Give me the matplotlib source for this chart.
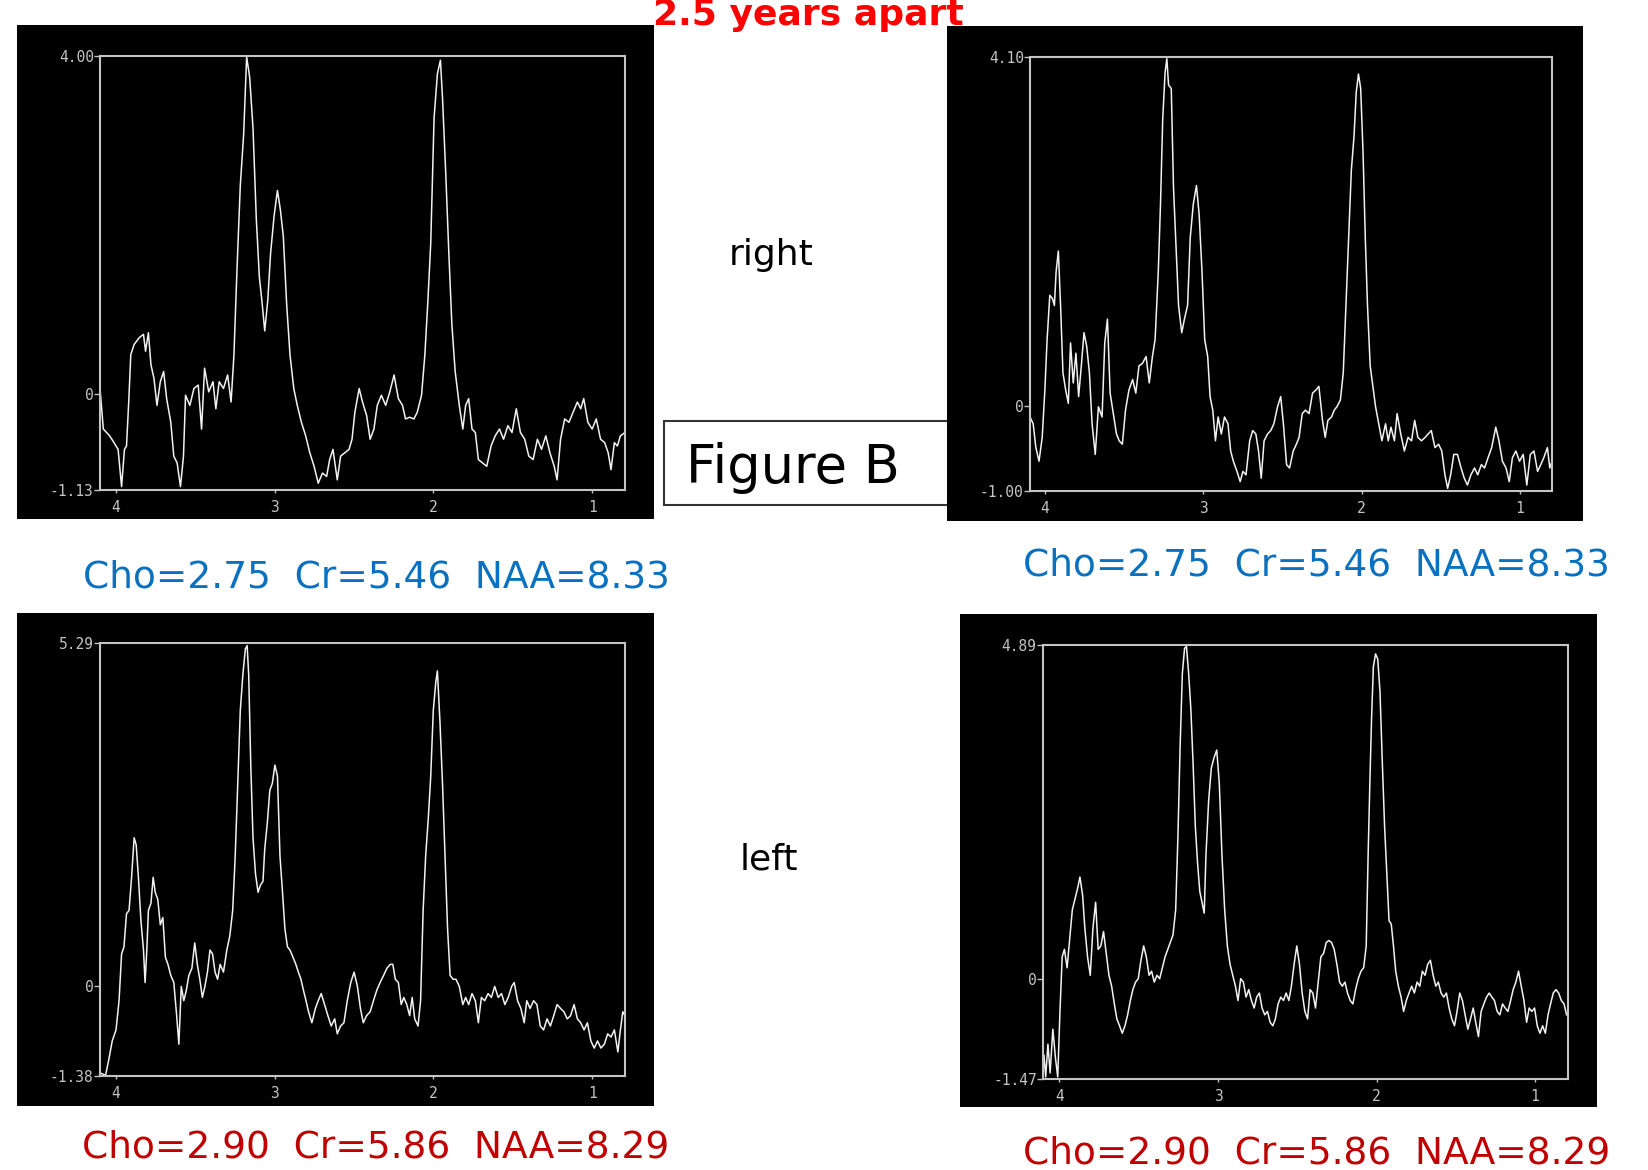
import matplotlib
matplotlib.use("Agg")
import matplotlib.pyplot as plt
from matplotlib.patches import Rectangle

W, H = 1648, 1170

# ---------------- data (ppm, amplitude) ----------------
tl_ppm = [4.101, 4.080, 4.040, 4.013, 3.987, 3.965, 3.947, 3.934, 3.920, 3.907,
          3.886, 3.854, 3.827, 3.814, 3.796, 3.780, 3.761, 3.742, 3.721, 3.700,
          3.681, 3.655, 3.636, 3.615, 3.594, 3.575, 3.562, 3.535, 3.509, 3.482,
          3.461, 3.442, 3.416, 3.389, 3.371, 3.350, 3.323, 3.297, 3.275, 3.257,
          3.238, 3.217, 3.196, 3.177, 3.158, 3.137, 3.116, 3.097, 3.079, 3.063,
          3.044, 3.026, 3.004, 2.983, 2.965, 2.946, 2.925, 2.904, 2.880, 2.858,
          2.832, 2.805, 2.779, 2.752, 2.726, 2.699, 2.673, 2.654, 2.633, 2.606,
          2.585, 2.559, 2.532, 2.513, 2.495, 2.468, 2.447, 2.421, 2.399, 2.375,
          2.354, 2.328, 2.301, 2.275, 2.248, 2.221, 2.195, 2.176, 2.150, 2.123,
          2.102, 2.075, 2.054, 2.036, 2.017, 1.996, 1.975, 1.956, 1.943, 1.922,
          1.903, 1.884, 1.863, 1.837, 1.815, 1.797, 1.778, 1.757, 1.736, 1.717,
          1.691, 1.664, 1.637, 1.611, 1.584, 1.558, 1.531, 1.505, 1.478, 1.452,
          1.425, 1.399, 1.372, 1.345, 1.319, 1.292, 1.266, 1.239, 1.221, 1.199,
          1.173, 1.146, 1.120, 1.093, 1.072, 1.053, 1.027, 1.000, 0.974, 0.947,
          0.921, 0.899, 0.881, 0.860, 0.841, 0.822, 0.793]
tl_amp = [0.07, -0.41, -0.49, -0.57, -0.65, -1.09, -0.65, -0.61, -0.09, 0.47,
          0.59, 0.67, 0.71, 0.51, 0.73, 0.35, 0.19, -0.13, 0.15, 0.27,
          -0.05, -0.33, -0.73, -0.81, -1.09, -0.73, -0.01, -0.13, 0.07, 0.11,
          -0.41, 0.31, 0.03, 0.15, -0.17, 0.15, 0.07, 0.23, -0.09, 0.47,
          1.47, 2.47, 3.07, 3.99, 3.75, 3.15, 2.07, 1.39, 1.07, 0.75,
          1.11, 1.67, 2.11, 2.41, 2.19, 1.87, 1.07, 0.47, 0.07, -0.13,
          -0.33, -0.49, -0.69, -0.85, -1.05, -0.93, -0.97, -0.77, -0.65, -1.01,
          -0.73, -0.69, -0.65, -0.53, -0.21, 0.07, -0.09, -0.25, -0.53, -0.41,
          -0.13, -0.01, -0.13, 0.03, 0.23, -0.05, -0.13, -0.29, -0.27, -0.29,
          -0.21, -0.01, 0.47, 1.07, 1.79, 3.27, 3.79, 3.95, 3.51, 2.59,
          1.67, 0.83, 0.27, -0.13, -0.41, -0.13, -0.05, -0.41, -0.45, -0.77,
          -0.81, -0.85, -0.61, -0.49, -0.41, -0.53, -0.37, -0.45, -0.17, -0.45,
          -0.53, -0.73, -0.77, -0.53, -0.65, -0.49, -0.69, -0.85, -1.01, -0.53,
          -0.29, -0.33, -0.21, -0.09, -0.17, -0.05, -0.33, -0.41, -0.29, -0.53,
          -0.57, -0.69, -0.89, -0.57, -0.61, -0.49, -0.45]

tr_ppm = [4.094, 4.074, 4.057, 4.037, 4.017, 4.000, 3.986, 3.969, 3.952, 3.940,
          3.929, 3.915, 3.901, 3.886, 3.869, 3.852, 3.838, 3.821, 3.804, 3.787,
          3.770, 3.753, 3.736, 3.719, 3.702, 3.682, 3.662, 3.639, 3.622, 3.605,
          3.588, 3.568, 3.548, 3.531, 3.511, 3.491, 3.469, 3.446, 3.426, 3.406,
          3.384, 3.361, 3.341, 3.321, 3.304, 3.284, 3.270, 3.256, 3.241, 3.230,
          3.219, 3.202, 3.188, 3.170, 3.156, 3.136, 3.119, 3.099, 3.082, 3.063,
          3.043, 3.026, 3.008, 2.991, 2.972, 2.957, 2.940, 2.923, 2.906, 2.886,
          2.866, 2.844, 2.827, 2.810, 2.787, 2.767, 2.750, 2.730, 2.707, 2.688,
          2.668, 2.651, 2.634, 2.616, 2.594, 2.574, 2.554, 2.531, 2.511, 2.494,
          2.474, 2.455, 2.432, 2.412, 2.395, 2.375, 2.355, 2.332, 2.310, 2.287,
          2.270, 2.247, 2.230, 2.213, 2.190, 2.173, 2.156, 2.134, 2.116, 2.099,
          2.082, 2.065, 2.048, 2.034, 2.020, 2.006, 1.991, 1.977, 1.963, 1.946,
          1.929, 1.912, 1.892, 1.872, 1.849, 1.832, 1.815, 1.793, 1.776, 1.753,
          1.730, 1.707, 1.685, 1.665, 1.645, 1.622, 1.599, 1.580, 1.560, 1.537,
          1.514, 1.494, 1.474, 1.457, 1.438, 1.418, 1.395, 1.372, 1.352, 1.332,
          1.310, 1.287, 1.267, 1.244, 1.224, 1.202, 1.179, 1.153, 1.133, 1.111,
          1.088, 1.068, 1.048, 1.026, 1.003, 0.980, 0.957, 0.935, 0.912, 0.889,
          0.869, 0.850, 0.827, 0.812, 0.798]
tr_amp = [-0.13, -0.21, -0.49, -0.65, -0.37, 0.19, 0.78, 1.30, 1.26, 1.18,
          1.58, 1.82, 1.18, 0.39, 0.19, 0.03, 0.74, 0.27, 0.62, 0.11,
          0.47, 0.86, 0.70, 0.39, -0.21, -0.57, -0.01, -0.13, 0.74, 1.02,
          0.15, -0.09, -0.33, -0.41, -0.45, -0.05, 0.19, 0.31, 0.15, 0.47,
          0.50, 0.58, 0.27, 0.58, 0.78, 1.58, 2.37, 3.37, 3.92, 4.08,
          3.77, 3.73, 2.57, 1.78, 1.18, 0.86, 1.02, 1.18, 1.98, 2.37,
          2.59, 2.25, 1.58, 0.78, 0.58, 0.11, -0.05, -0.41, -0.13, -0.33,
          -0.13, -0.21, -0.53, -0.65, -0.77, -0.89, -0.77, -0.81, -0.41, -0.29,
          -0.33, -0.53, -0.85, -0.41, -0.33, -0.29, -0.21, -0.01, 0.11, -0.21,
          -0.69, -0.73, -0.53, -0.45, -0.37, -0.09, -0.05, -0.09, 0.15, 0.19,
          0.23, -0.17, -0.37, -0.17, -0.13, -0.05, -0.01, 0.07, 0.39, 1.18,
          1.98, 2.77, 3.17, 3.69, 3.90, 3.73, 2.97, 1.98, 1.18, 0.47,
          0.23, -0.01, -0.21, -0.41, -0.21, -0.41, -0.25, -0.41, -0.09, -0.33,
          -0.53, -0.37, -0.41, -0.17, -0.37, -0.41, -0.37, -0.33, -0.29, -0.49,
          -0.45, -0.53, -0.81, -0.97, -0.81, -0.57, -0.57, -0.73, -0.85, -0.93,
          -0.81, -0.73, -0.81, -0.69, -0.73, -0.61, -0.49, -0.25, -0.41, -0.65,
          -0.73, -0.89, -0.61, -0.53, -0.65, -0.57, -0.93, -0.57, -0.53, -0.77,
          -0.69, -0.61, -0.49, -0.73, -0.65]

bl_ppm = [4.093, 4.066, 4.045, 4.024, 4.000, 3.981, 3.965, 3.950, 3.934, 3.918,
          3.902, 3.886, 3.873, 3.859, 3.843, 3.827, 3.817, 3.806, 3.796, 3.780,
          3.766, 3.753, 3.737, 3.721, 3.705, 3.689, 3.673, 3.655, 3.636, 3.620,
          3.604, 3.589, 3.573, 3.557, 3.541, 3.522, 3.504, 3.488, 3.472, 3.456,
          3.440, 3.424, 3.408, 3.392, 3.376, 3.360, 3.344, 3.323, 3.302, 3.283,
          3.265, 3.249, 3.233, 3.217, 3.201, 3.185, 3.174, 3.164, 3.151, 3.137,
          3.121, 3.105, 3.090, 3.074, 3.063, 3.047, 3.031, 3.015, 2.999, 2.983,
          2.967, 2.951, 2.936, 2.920, 2.904, 2.885, 2.867, 2.851, 2.835, 2.819,
          2.803, 2.787, 2.766, 2.744, 2.726, 2.707, 2.686, 2.665, 2.644, 2.622,
          2.606, 2.585, 2.564, 2.543, 2.521, 2.500, 2.479, 2.460, 2.442, 2.421,
          2.399, 2.378, 2.357, 2.336, 2.314, 2.293, 2.272, 2.256, 2.240, 2.221,
          2.203, 2.187, 2.168, 2.150, 2.134, 2.118, 2.097, 2.081, 2.065, 2.049,
          2.033, 2.017, 2.001, 1.985, 1.975, 1.959, 1.943, 1.927, 1.911, 1.895,
          1.876, 1.858, 1.837, 1.815, 1.797, 1.778, 1.757, 1.736, 1.717, 1.698,
          1.677, 1.656, 1.635, 1.614, 1.592, 1.571, 1.550, 1.529, 1.507, 1.491,
          1.470, 1.449, 1.428, 1.412, 1.391, 1.369, 1.348, 1.327, 1.306, 1.284,
          1.263, 1.242, 1.221, 1.199, 1.178, 1.157, 1.136, 1.114, 1.093, 1.072,
          1.051, 1.030, 1.008, 0.987, 0.966, 0.945, 0.923, 0.902, 0.881, 0.860,
          0.838, 0.822, 0.807, 0.793]
bl_amp = [-1.34, -1.37, -1.12, -0.84, -0.67, -0.22, 0.50, 0.61, 1.12, 1.17,
          1.68, 2.29, 2.18, 1.68, 1.01, 0.56, 0.06, 0.56, 1.17, 1.28,
          1.68, 1.45, 1.34, 0.95, 1.06, 0.45, 0.34, 0.17, 0.06, -0.39,
          -0.89, 0.00, -0.22, -0.06, 0.17, 0.28, 0.67, 0.34, 0.11, -0.17,
          0.00, 0.22, 0.56, 0.50, 0.22, 0.11, 0.34, 0.22, 0.56, 0.78,
          1.17, 2.01, 3.13, 4.25, 4.80, 5.20, 5.25, 4.80, 3.41, 2.29,
          1.73, 1.45, 1.56, 1.62, 2.12, 2.51, 3.02, 3.13, 3.41, 3.24,
          2.01, 1.45, 0.89, 0.61, 0.56, 0.45, 0.34, 0.22, 0.11, -0.06,
          -0.22, -0.39, -0.56, -0.34, -0.22, -0.11, -0.28, -0.45, -0.61, -0.50,
          -0.73, -0.61, -0.56, -0.22, 0.06, 0.22, 0.00, -0.34, -0.56, -0.45,
          -0.39, -0.22, -0.06, 0.06, 0.17, 0.28, 0.34, 0.34, 0.11, 0.06,
          -0.28, -0.17, -0.28, -0.45, -0.17, -0.50, -0.61, -0.22, 1.17, 2.01,
          2.57, 3.24, 4.25, 4.69, 4.86, 4.08, 3.13, 2.01, 0.89, 0.17,
          0.11, 0.11, 0.00, -0.28, -0.17, -0.28, -0.11, -0.22, -0.56, -0.17,
          -0.22, -0.11, -0.17, 0.00, -0.17, -0.11, -0.28, -0.17, 0.00, 0.06,
          -0.22, -0.34, -0.56, -0.22, -0.34, -0.22, -0.28, -0.61, -0.67, -0.50,
          -0.61, -0.45, -0.28, -0.34, -0.39, -0.50, -0.45, -0.28, -0.50, -0.56,
          -0.67, -0.56, -0.84, -0.95, -0.84, -0.95, -0.89, -0.73, -0.78, -0.67,
          -1.01, -0.67, -0.39, -0.45]

br_ppm = [4.098, 4.087, 4.073, 4.059, 4.042, 4.025, 4.011, 3.997, 3.983, 3.969,
          3.952, 3.935, 3.919, 3.902, 3.885, 3.871, 3.854, 3.840, 3.823, 3.806,
          3.789, 3.772, 3.756, 3.739, 3.722, 3.705, 3.688, 3.671, 3.654, 3.638,
          3.621, 3.604, 3.587, 3.570, 3.553, 3.537, 3.520, 3.503, 3.486, 3.469,
          3.452, 3.435, 3.419, 3.402, 3.385, 3.368, 3.351, 3.334, 3.317, 3.301,
          3.284, 3.267, 3.253, 3.239, 3.225, 3.211, 3.199, 3.185, 3.171, 3.157,
          3.143, 3.129, 3.115, 3.101, 3.087, 3.076, 3.059, 3.042, 3.025, 3.008,
          2.992, 2.975, 2.958, 2.941, 2.924, 2.907, 2.890, 2.874, 2.857, 2.840,
          2.823, 2.806, 2.789, 2.772, 2.756, 2.739, 2.722, 2.705, 2.688, 2.671,
          2.654, 2.638, 2.621, 2.604, 2.587, 2.570, 2.553, 2.537, 2.520, 2.503,
          2.486, 2.469, 2.452, 2.435, 2.419, 2.402, 2.385, 2.368, 2.351, 2.334,
          2.317, 2.301, 2.284, 2.267, 2.250, 2.233, 2.216, 2.199, 2.183, 2.166,
          2.149, 2.132, 2.115, 2.098, 2.081, 2.065, 2.053, 2.042, 2.031, 2.020,
          2.006, 1.992, 1.978, 1.963, 1.949, 1.935, 1.921, 1.907, 1.893, 1.879,
          1.862, 1.845, 1.829, 1.812, 1.795, 1.778, 1.761, 1.744, 1.727, 1.711,
          1.694, 1.677, 1.660, 1.643, 1.626, 1.610, 1.593, 1.576, 1.559, 1.542,
          1.525, 1.508, 1.492, 1.475, 1.458, 1.441, 1.424, 1.407, 1.390, 1.374,
          1.357, 1.340, 1.323, 1.306, 1.289, 1.272, 1.256, 1.239, 1.222, 1.205,
          1.188, 1.171, 1.154, 1.138, 1.121, 1.104, 1.087, 1.070, 1.053, 1.037,
          1.020, 1.003, 0.986, 0.969, 0.952, 0.935, 0.918, 0.902, 0.885, 0.868,
          0.851, 0.834, 0.817, 0.801]
br_amp = [-1.12, -1.44, -0.96, -1.38, -0.74, -1.17, -1.44, -0.48, 0.32, 0.43,
          0.16, 0.59, 1.01, 1.17, 1.33, 1.49, 1.22, 0.74, 0.32, 0.05,
          0.74, 1.12, 0.43, 0.48, 0.69, 0.37, 0.05, -0.11, -0.37, -0.59,
          -0.69, -0.80, -0.69, -0.53, -0.32, -0.16, -0.05, 0.00, 0.27, 0.48,
          0.32, 0.05, 0.11, -0.05, 0.05, 0.00, 0.16, 0.32, 0.43, 0.53,
          0.64, 1.01, 2.07, 3.40, 4.47, 4.84, 4.87, 4.47, 3.94, 3.14,
          2.23, 1.70, 1.28, 1.12, 0.96, 1.81, 2.61, 3.09, 3.24, 3.35,
          2.87, 1.81, 1.01, 0.48, 0.21, 0.05, -0.11, -0.32, 0.00, -0.05,
          -0.27, -0.16, -0.32, -0.43, -0.27, -0.21, -0.43, -0.53, -0.48, -0.64,
          -0.69, -0.59, -0.37, -0.27, -0.32, -0.21, -0.32, -0.11, 0.21, 0.48,
          0.21, -0.21, -0.48, -0.59, -0.16, -0.21, -0.43, -0.05, 0.32, 0.37,
          0.53, 0.56, 0.53, 0.43, 0.21, -0.05, -0.11, -0.05, -0.21, -0.32,
          -0.37, -0.16, 0.00, 0.11, 0.16, 0.48, 1.81, 2.87, 3.83, 4.57,
          4.76, 4.68, 4.20, 3.14, 2.23, 1.54, 0.85, 0.80, 0.48, 0.11,
          -0.11, -0.27, -0.48, -0.32, -0.21, -0.11, -0.21, -0.05, -0.11, 0.11,
          0.05, 0.21, 0.27, 0.05, -0.11, -0.05, -0.21, -0.27, -0.21, -0.43,
          -0.59, -0.69, -0.48, -0.21, -0.32, -0.53, -0.74, -0.59, -0.43, -0.64,
          -0.85, -0.48, -0.37, -0.27, -0.21, -0.27, -0.32, -0.48, -0.53, -0.37,
          -0.43, -0.48, -0.32, -0.16, -0.05, 0.11, -0.11, -0.32, -0.64, -0.43,
          -0.48, -0.43, -0.69, -0.80, -0.69, -0.80, -0.53, -0.37, -0.21, -0.16,
          -0.21, -0.32, -0.37, -0.53]

x_ticks = [4, 3, 2, 1]
x_tick_labels = ["4", "3", "2", "1"]
y_ranges = {"tl": (-1.13, 4.00), "tr": (-1.00, 4.10),
            "bl": (-1.38, 5.29), "br": (-1.47, 4.89)}
y_labels = {"tl": ["-1.13", "0", "4.00"], "tr": ["-1.00", "0", "4.10"],
            "bl": ["-1.38", "0", "5.29"], "br": ["-1.47", "0", "4.89"]}
x_ranges = {"tl": (4.101, 0.793), "tr": (4.094, 0.798),
            "bl": (4.101, 0.793), "br": (4.104, 0.792)}

right_metrics = "Cho=2.75  Cr=5.46  NAA=8.33"
left_metrics = "Cho=2.90  Cr=5.86  NAA=8.29"

# ---------------- layout (pixel boxes: left, top, right, bottom) ----------------
bg_boxes = {"tl": (17, 25, 654, 519), "tr": (947, 26, 1583, 521),
            "bl": (17, 613, 654, 1106), "br": (960, 614, 1597, 1107)}
frame_boxes = {"tl": (100, 56, 625, 490), "tr": (1030, 57, 1552, 491),
               "bl": (100, 643, 625, 1076), "br": (1043, 645, 1568, 1079)}


def fig_rect(box):
    l, t, r, b = box
    return [l / W, 1 - b / H, (r - l) / W, (b - t) / H]


fig = plt.figure(figsize=(W / 100, H / 100), dpi=100)
fig.patch.set_facecolor("white")

# "Figure B" box (its right edge disappears under the upper-right panel)
fig.patches.append(Rectangle((664 / W, 1 - 505 / H), (980 - 664) / W, (505 - 421) / H,
                             transform=fig.transFigure, facecolor="white",
                             edgecolor="#333333", linewidth=1.5, zorder=0.5))

data = {"tl": (tl_ppm, tl_amp), "tr": (tr_ppm, tr_amp),
        "bl": (bl_ppm, bl_amp), "br": (br_ppm, br_amp)}

grey = "#c4c4c4"
for key in ["tl", "tr", "bl", "br"]:
    bg = fig.add_axes(fig_rect(bg_boxes[key]), zorder=1)
    bg.set_facecolor("black")
    bg.set_xticks([])
    bg.set_yticks([])
    for s in bg.spines.values():
        s.set_visible(False)

    ax = fig.add_axes(fig_rect(frame_boxes[key]), zorder=2)
    ax.set_facecolor("black")
    ppm, amp = data[key]
    ax.plot(ppm, amp, color="#f2f2f2", lw=1.1)
    ax.set_xlim(*x_ranges[key])
    ymin, ymax = y_ranges[key]
    ax.set_ylim(ymin, ymax)
    ax.set_xticks(x_ticks)
    ax.set_xticklabels(x_tick_labels)
    ax.set_yticks([ymin, 0, ymax])
    ax.set_yticklabels(y_labels[key])
    for s in ax.spines.values():
        s.set_color(grey)
        s.set_linewidth(1.5)
    ax.tick_params(axis="y", direction="out", length=4.0, width=1.0, color=grey,
                   pad=0.5, labelsize=10.5, labelcolor=grey)
    ax.tick_params(axis="x", direction="out", length=2.5, width=1.0, color=grey,
                   pad=5, labelsize=10.5, labelcolor=grey)
    for lab in ax.get_xticklabels() + ax.get_yticklabels():
        lab.set_fontfamily("DejaVu Sans Mono")

# ---------------- texts ----------------
def ftext(x, y, s, **kw):
    fig.text(x / W, 1 - y / H, s, va="baseline", zorder=5, **kw)

ftext(808, 25, "2.5 years apart", ha="center", color="#ff0000",
      fontsize=26, fontweight="bold")
ftext(771, 265, "right", ha="center", color="black", fontsize=26)
ftext(769, 870, "left", ha="center", color="black", fontsize=26)
ftext(686, 483, "Figure B", ha="left", color="black", fontsize=38)

blue = "#0a70c0"
red = "#c00000"
ftext(376, 588, right_metrics, ha="center", color=blue, fontsize=27)
ftext(1316, 576, right_metrics, ha="center", color=blue, fontsize=27)
ftext(376, 1157, left_metrics, ha="center", color=red, fontsize=27)
ftext(1317, 1163, left_metrics, ha="center", color=red, fontsize=27)

fig.savefig("out.png", dpi=100, facecolor="white")
